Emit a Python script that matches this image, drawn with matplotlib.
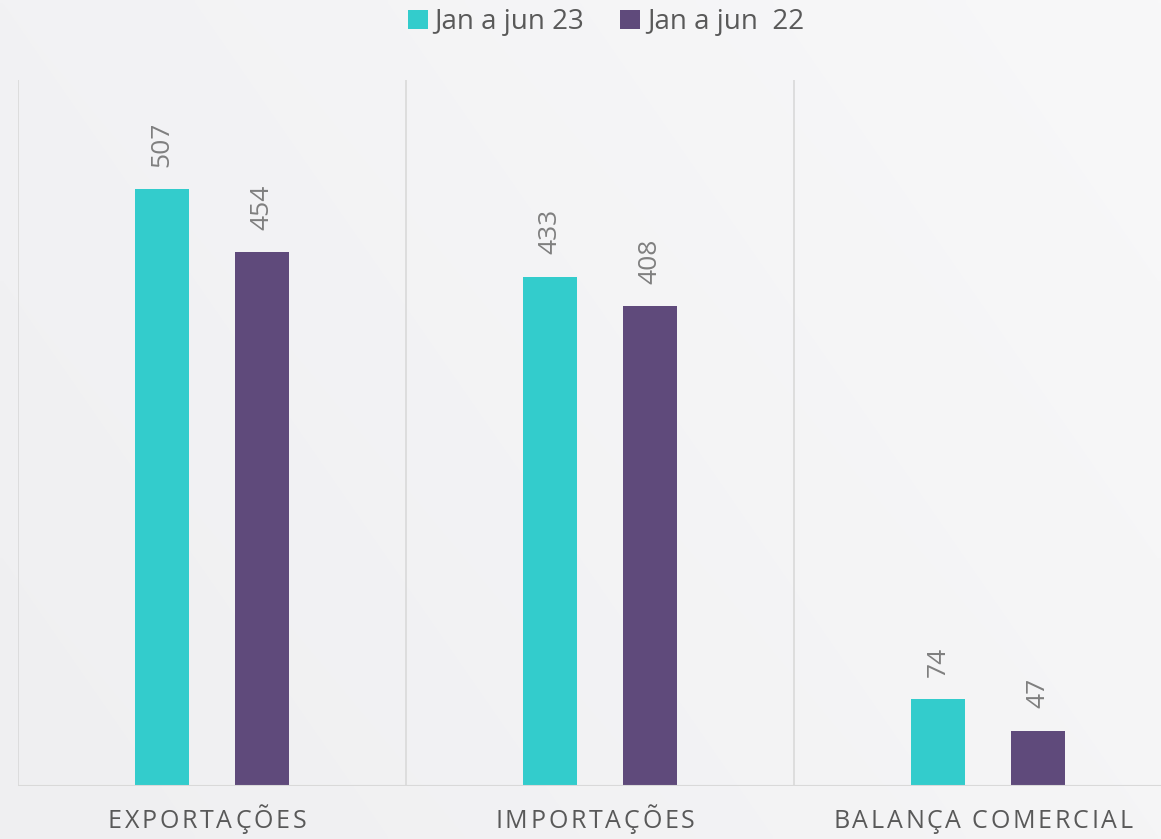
import matplotlib

matplotlib.use("Agg")
import matplotlib.pyplot as plt
from matplotlib.patches import Patch
import numpy as np

plt.rcParams["font.family"] = ["Open Sans", "DejaVu Sans"]

CATEGORIES = ["EXPORTAÇÕES", "IMPORTAÇÕES", "BALANÇA COMERCIAL"]
SERIES_NAMES = ["Jan a jun 23", "Jan a jun  22"]
VALUES_23 = [507, 433, 74]
VALUES_22 = [454, 408, 47]
COLORS = ["#33CCCC", "#5F4A7B"]

# soft background gradient corners
BG_TL = np.array([242, 242, 244]) / 255.0
BG_TR = np.array([248, 248, 249]) / 255.0
BG_BL = np.array([239, 239, 241]) / 255.0
BG_BR = np.array([245, 245, 246]) / 255.0
GRID = "#d9d9d9"
TEXT_GRAY = "#595959"
LABEL_GRAY = "#7f7f7f"


def spaced_label(fig, ax, xdata, y_px, text, spacing_px, shift_px=0.0, **kw):
    # matplotlib has no letter spacing, so place each character by hand
    renderer = fig.canvas.get_renderer()
    widths = []
    for ch in text:
        t = fig.text(0, 0, ch if ch != " " else "a", **kw)
        w = t.get_window_extent(renderer).width
        t.remove()
        widths.append(w * (0.35 if ch == " " else 1.0))
    total = sum(widths) + spacing_px * (len(text) - 1)
    cx = ax.transData.transform((xdata, 0))[0]
    x = cx - total / 2 + shift_px
    W, H = fig.bbox.width, fig.bbox.height
    for ch, w in zip(text, widths):
        if ch != " ":
            fig.text(x / W, y_px / H, ch, ha="left", va="center", **kw)
        x += w + spacing_px


fig = plt.figure(figsize=(11.61, 8.39), dpi=100)
W, H = 1161, 839

u = np.linspace(0, 1, 200)[None, :, None]
v = np.linspace(0, 1, 150)[:, None, None]
top = BG_TL * (1 - u) + BG_TR * u
bottom = BG_BL * (1 - u) + BG_BR * u
bg_img = top * (1 - v) + bottom * v

bg_ax = fig.add_axes([0, 0, 1, 1], zorder=-10)
bg_ax.imshow(bg_img, aspect="auto", interpolation="bilinear", extent=(0, 1, 0, 1))
bg_ax.set_axis_off()

ax = fig.add_axes([18 / W, 53 / H, 1164 / W, 706 / H])
ax.patch.set_alpha(0)

x = np.arange(len(CATEGORIES))
offset = 0.129
width = 0.139
bars1 = ax.bar(x - offset, VALUES_23, width, color=COLORS[0], zorder=3)
bars2 = ax.bar(x + offset, VALUES_22, width, color=COLORS[1], zorder=3)

for bars, vals in ((bars1, VALUES_23), (bars2, VALUES_22)):
    for b, val in zip(bars, vals):
        ax.annotate(str(val), (b.get_x() + b.get_width() / 2, val),
                    xytext=(0, 16), textcoords="offset points",
                    rotation=90, ha="center", va="bottom",
                    fontsize=19, color=LABEL_GRAY)

ax.set_xlim(-0.5, len(CATEGORIES) - 0.5)
ax.set_ylim(0, 600)
for sep in np.arange(-0.5, len(CATEGORIES), 1.0):
    ax.axvline(sep, color=GRID, lw=1.2, zorder=1)
ax.axhline(0, color=GRID, lw=1.5, zorder=4)
for s in ax.spines.values():
    s.set_visible(False)
ax.set_xticks([])
ax.set_yticks([])

for i, cat in enumerate(CATEGORIES):
    spaced_label(fig, ax, x[i], 839 - 822, cat, 2.8, shift_px=-5,
                 fontsize=18, color=TEXT_GRAY)

handles = [Patch(facecolor=c, edgecolor="none") for c in COLORS]
fig.legend(handles, SERIES_NAMES, loc="center", bbox_to_anchor=(0.522, 1 - 22 / H),
           ncol=2, frameon=False, fontsize=20, labelcolor=TEXT_GRAY,
           handlelength=0.7, handleheight=0.7, handletextpad=0.25,
           columnspacing=1.3)

fig.savefig("out.png", dpi=100)
